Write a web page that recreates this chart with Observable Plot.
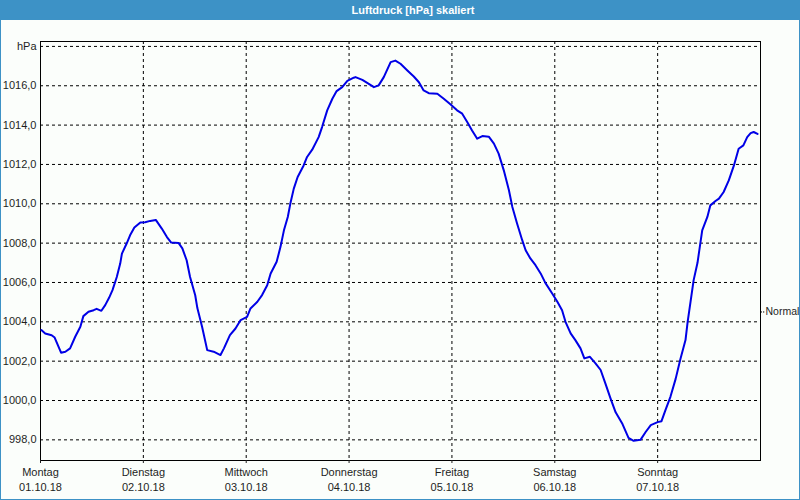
<!DOCTYPE html>
<html>
<head>
<meta charset="utf-8">
<script src="https://cdn.jsdelivr.net/npm/d3@7"></script>
<script src="https://cdn.jsdelivr.net/npm/@observablehq/plot@0.6"></script>
<style>
  html, body { margin: 0; padding: 0; background: #fbfefb; }
  #wrap { position: relative; width: 800px; height: 500px; background: #fbfefb; overflow: hidden; }
  #title { position: absolute; left: 0; top: 0; width: 800px; height: 20px; background: #3d92c6;
           color: #ffffff; font: bold 11px "Liberation Sans", Arial, sans-serif; line-height: 20px;
           text-align: center; box-sizing: border-box; padding-left: 26px; }
  #chart { position: absolute; left: 0; top: 20px; }
  #chart svg { overflow: visible; }
  #border { position: absolute; left: 0; top: 20px; width: 800px; height: 480px; box-sizing: border-box;
            border-left: 1px solid #3d92c6; border-right: 1px solid #3d92c6; border-bottom: 1px solid #3d92c6;
            pointer-events: none; }
</style>
</head>
<body>
<div id="wrap">
  <div id="title">Luftdruck [hPa] skaliert</div>
  <div id="chart"></div>
  <div id="border"></div>
</div>
<script>
// Hours since Monday 01.10.18 00:00
const hours = [0.2, 1.1, 2.6, 3.3, 4.8, 5.8, 6.9, 8.1, 9.3, 10.0, 11.2, 12.4, 13.1, 14.2, 15.1, 16.0, 16.8, 17.8, 18.6, 19.0,
  20.1, 20.9, 21.9, 23.3, 24.4, 25.6, 26.9, 28.3, 29.5, 30.5, 32.2, 33.1, 34.1, 34.9, 36.1, 36.6, 37.7, 38.9, 40.4, 42.0,
  42.8, 44.2, 45.5, 46.7, 48.2, 49.0, 50.6, 51.7, 52.9, 53.7, 55.1, 56.0, 56.8, 57.7, 58.3, 59.1, 60.0, 61.4, 62.2, 63.4,
  64.9, 65.7, 66.9, 68.1, 69.1, 70.4, 71.6, 73.1, 73.5, 75.1, 76.6, 77.8, 78.9, 80.1, 81.7, 82.8, 84.0, 85.6, 87.1, 88.3,
  89.4, 90.6, 92.6, 94.1, 95.7, 97.2, 98.4, 99.6, 100.7, 101.9, 103.1, 104.6, 105.8, 106.9, 108.1, 109.3, 110.1, 111.2, 112.4, 113.2,
  114.3, 115.5, 116.7, 117.8, 119.4, 120.6, 121.7, 122.5, 123.7, 124.8, 126.0, 126.9, 128.2, 129.5, 130.7, 131.8, 133.0, 134.2, 135.8, 137.2,
  138.4, 140.0, 141.2, 142.4, 144.0, 144.9, 145.8, 147.0, 148.2, 149.3, 150.5, 151.0, 152.4, 153.3, 154.4, 155.6, 156.3, 157.5, 158.3, 159.4,
  160.6, 161.8, 162.9, 164.0, 164.9, 165.7, 166.4, 167.3];
const pressure = [1003.58, 1003.41, 1003.32, 1003.2, 1002.43, 1002.48, 1002.65, 1003.24, 1003.75, 1004.29, 1004.51, 1004.59, 1004.66, 1004.56, 1004.85, 1005.22, 1005.61, 1006.28, 1006.96, 1007.47,
  1007.98, 1008.40, 1008.79, 1009.05, 1009.06, 1009.13, 1009.18, 1008.74, 1008.31, 1008.03, 1008.01, 1007.73, 1007.13, 1006.28, 1005.35, 1004.7, 1003.75, 1002.56, 1002.48, 1002.31,
  1002.65, 1003.32, 1003.66, 1004.09, 1004.25, 1004.68, 1005.02, 1005.36, 1005.86, 1006.46, 1007.05, 1007.81, 1008.65, 1009.33, 1010.01, 1010.77, 1011.36, 1011.95, 1012.38, 1012.75,
  1013.39, 1013.90, 1014.75, 1015.34, 1015.73, 1015.93, 1016.25, 1016.41, 1016.44, 1016.30, 1016.10, 1015.93, 1016.02, 1016.44, 1017.20, 1017.28, 1017.12, 1016.78, 1016.47, 1016.18,
  1015.76, 1015.62, 1015.59, 1015.34, 1015.05, 1014.75, 1014.58, 1014.15, 1013.73, 1013.31, 1013.44, 1013.41, 1013.06, 1012.55, 1011.70, 1010.69, 1009.84, 1009.0, 1008.15, 1007.64,
  1007.22, 1006.88, 1006.46, 1005.98, 1005.44, 1005.02, 1004.59, 1004.00, 1003.41, 1003.07, 1002.65, 1002.14, 1002.22, 1001.89, 1001.55, 1000.87, 1000.11, 999.4, 998.8, 998.1,
  997.95, 998.0, 998.4, 998.75, 998.9, 998.95, 999.5, 1000.2, 1001.1, 1002.1, 1003.07, 1004.0, 1006.12, 1007.0, 1008.65, 1009.33, 1009.92, 1010.14, 1010.26, 1010.6,
  1011.19, 1011.95, 1012.80, 1012.97, 1013.39, 1013.59, 1013.65, 1013.55];

const dayTicks = [0, 24, 48, 72, 96, 120, 144];
const dayNames = ["Montag", "Dienstag", "Mittwoch", "Donnerstag", "Freitag", "Samstag", "Sonntag"];
const dayDates = ["01.10.18", "02.10.18", "03.10.18", "04.10.18", "05.10.18", "06.10.18", "07.10.18"];
const yTicks = [998, 1000, 1002, 1004, 1006, 1008, 1010, 1012, 1014, 1016, 1018];
const yTickLabels = ["998,0", "1000,0", "1002,0", "1004,0", "1006,0", "1008,0", "1010,0", "1012,0", "1014,0", "1016,0", "hPa"];
const normalValue = [1004.5];
const normalLabel = ["Normal"];

const data = hours.map((h, i) => ({h, p: pressure[i]}));
const days = dayTicks.map((t, i) => ({t, name: dayNames[i], date: dayDates[i]}));
const xEnd = 168;

const chart = Plot.plot({
  width: 800,
  height: 480,
  marginLeft: 40,
  marginRight: 40,
  marginTop: 21,
  marginBottom: 40,
  style: {background: "transparent", fontFamily: "'Liberation Sans', Arial, sans-serif", fontSize: "11px", color: "#1e1e1e", overflow: "visible"},
  x: {domain: [0, xEnd]},
  y: {domain: [996.95, 1018.25]},
  marks: [
    Plot.gridY(yTicks, {stroke: "#000", strokeOpacity: 1, strokeDasharray: "3,3"}),
    Plot.gridX(dayTicks.slice(1), {stroke: "#000", strokeOpacity: 1, strokeDasharray: "3,3"}),
    Plot.frame({stroke: "#000"}),
    Plot.line(data, {x: "h", y: "p", stroke: "#0000e6", strokeWidth: 2}),
    Plot.axisY({ticks: yTicks, tickSize: 0, tickPadding: 4, label: null, tickFormat: (d) => yTickLabels[yTicks.indexOf(d)]}),
    Plot.axisX({ticks: dayTicks, tickSize: 3, label: null, tickFormat: () => ""}),
    Plot.text(days, {x: "t", text: "name", frameAnchor: "bottom", dy: 15, fill: "#1e1e1e"}),
    Plot.text(days, {x: "t", text: "date", frameAnchor: "bottom", dy: 30, fill: "#1e1e1e"}),
    Plot.ruleY(normalValue, {x1: () => xEnd, x2: () => xEnd + 1.0, y: (d) => d, stroke: "#000", strokeDasharray: "2,1"}),
    Plot.text(normalValue, {x: () => xEnd, y: (d) => d, dx: 5, textAnchor: "start", fontSize: 10.5, text: (d, i) => normalLabel[i], fill: "#1e1e1e"})
  ]
});
document.getElementById("chart").appendChild(chart);
</script>
</body>
</html>
